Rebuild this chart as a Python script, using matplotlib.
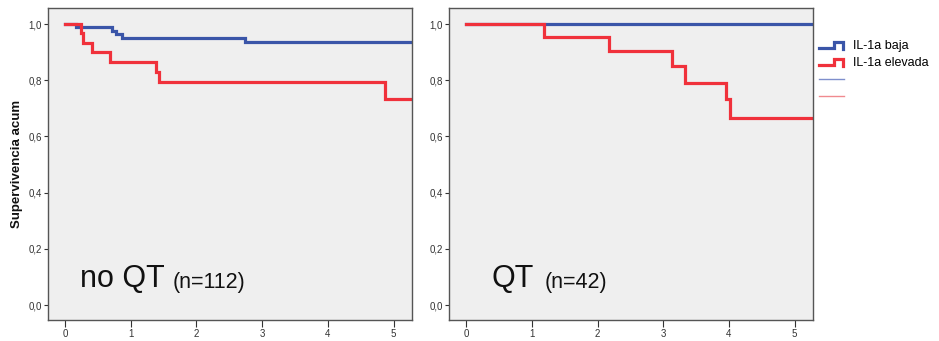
import matplotlib
matplotlib.use("Agg")
import matplotlib.pyplot as plt
from matplotlib.legend_handler import HandlerBase
from matplotlib.lines import Line2D

# Kaplan-Meier step data: event times and survival after each event
noqt_baja_t = [0.0, 0.16, 0.71, 0.78, 0.87, 2.74]
noqt_baja_s = [1.0, 0.988, 0.976, 0.964, 0.950, 0.935]
noqt_elev_t = [0.0, 0.25, 0.28, 0.41, 0.69, 1.39, 1.43, 4.87]
noqt_elev_s = [1.0, 0.967, 0.933, 0.900, 0.866, 0.830, 0.795, 0.732]

qt_baja_t = [0.0]
qt_baja_s = [1.0]
qt_elev_t = [0.0, 1.19, 2.18, 3.14, 3.33, 3.96, 4.01]
qt_elev_s = [1.0, 0.952, 0.905, 0.850, 0.790, 0.732, 0.667]

t_end = 5.3
yticks = [0.0, 0.2, 0.4, 0.6, 0.8, 1.0]
ytick_labels = ["0,0", "0,2", "0,4", "0,6", "0,8", "1,0"]
xticks = [0, 1, 2, 3, 4, 5]

BLUE = "#3a55a8"
RED = "#f0313b"
BG = "#efefef"
SPINE = "#555555"
FONT = "Liberation Sans"

fig = plt.figure(figsize=(9.39, 3.41), dpi=100)
ax1 = fig.add_axes([0.0511, 0.0616, 0.3877, 0.915])
ax2 = fig.add_axes([0.4782, 0.0616, 0.3876, 0.915])


def km(ax, t, s, color):
    xs = list(t) + [t_end]
    ys = list(s) + [s[-1]]
    ax.step(xs, ys, where="post", color=color, lw=2.3, solid_joinstyle="miter")


for ax in (ax1, ax2):
    ax.set_facecolor(BG)
    ax.set_xlim(-0.26, 5.28)
    ax.set_ylim(-0.053, 1.057)
    ax.set_xticks(xticks)
    ax.set_xticklabels([str(v) for v in xticks])
    ax.set_yticks(yticks)
    ax.set_yticklabels(ytick_labels)
    ax.tick_params(axis="both", labelsize=7, colors="#333333", length=3,
                   width=0.8, pad=1.5)
    ax.tick_params(axis="x", length=5)
    for lbl in ax.get_xticklabels() + ax.get_yticklabels():
        lbl.set_family(FONT)
    for sp in ax.spines.values():
        sp.set_color(SPINE)
        sp.set_linewidth(1.0)

km(ax1, noqt_baja_t, noqt_baja_s, BLUE)
km(ax1, noqt_elev_t, noqt_elev_s, RED)
km(ax2, qt_baja_t, qt_baja_s, BLUE)
km(ax2, qt_elev_t, qt_elev_s, RED)

ax1.set_ylabel("Supervivencia acum", fontsize=9.5, fontweight="bold",
               color="#111111", labelpad=4, family=FONT)

ax1.text(0.22, 0.066, "no QT", fontsize=22, color="#111111",
         family=FONT, va="baseline")
ax1.text(1.64, 0.062, "(n=112)", fontsize=15.5, color="#111111",
         family=FONT, va="baseline")
ax2.text(0.39, 0.066, "QT", fontsize=22, color="#111111",
         family=FONT, va="baseline")
ax2.text(1.2, 0.062, "(n=42)", fontsize=15.5, color="#111111",
         family=FONT, va="baseline")


class StepHandler(HandlerBase):
    def create_artists(self, legend, orig_handle, xdescent, ydescent,
                       width, height, fontsize, trans):
        x0, x1 = -xdescent, -xdescent + width
        y0, y1 = -ydescent + 0.05 * height, -ydescent + 0.75 * height
        xm = x0 + 0.62 * width
        ln = Line2D([x0, xm, xm, x1 - 0.05 * width, x1 - 0.05 * width],
                    [y0, y0, y1, y1, y0 - 0.1 * height],
                    color=orig_handle.get_color(), lw=2.3,
                    solid_joinstyle="miter", transform=trans)
        return [ln]


h_blue = Line2D([], [], color=BLUE, lw=2.3)
h_red = Line2D([], [], color=RED, lw=2.3)
h_blue_c = Line2D([], [], color="#7f8fcc", lw=1.0)
h_red_c = Line2D([], [], color="#f08a8f", lw=1.0)
fig.legend([h_blue, h_red, h_blue_c, h_red_c],
           ["IL-1a baja", "IL-1a elevada", " ", " "],
           handler_map={h_blue: StepHandler(), h_red: StepHandler()},
           loc="upper left", bbox_to_anchor=(0.868, 0.894), frameon=False,
           handlelength=2.0, handletextpad=0.7,
           labelspacing=0.4, borderaxespad=0, borderpad=0.3,
           prop={"family": FONT, "size": 9})

fig.savefig("out.png", dpi=100, facecolor="white")
